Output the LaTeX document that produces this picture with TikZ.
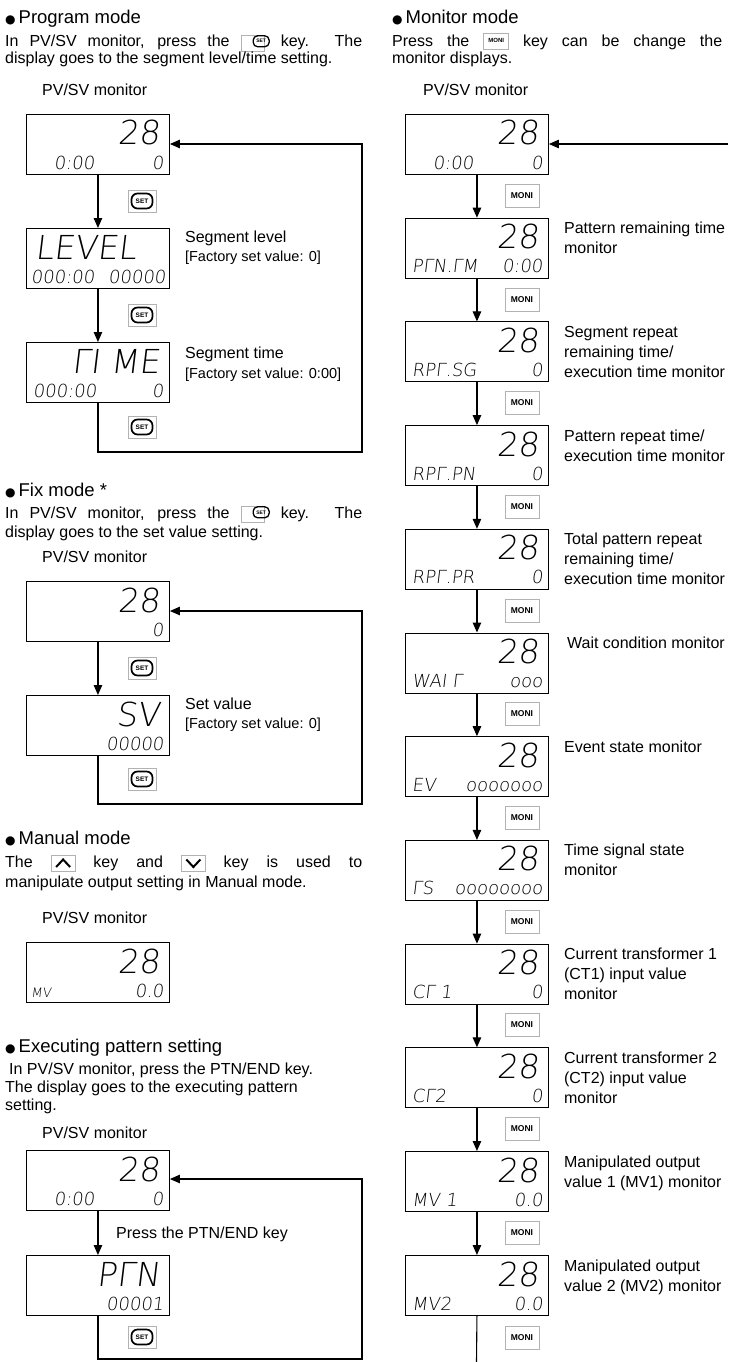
\documentclass[tikz,border=0pt]{standalone}
\usepackage{fontspec}
\setmainfont{Liberation Sans}
\newfontfamily\segfont{DejaVu Sans ExtraLight}[FakeSlant=0.12]
\newfontfamily\dejavu{DejaVu Sans}
\usetikzlibrary{arrows.meta,calc}

\newcommand\SetGlyph[1][6.5]{\tikz[baseline=(sgx.base)]\node[draw,line width=1.7pt,rounded corners=6pt,minimum width=21pt,minimum height=15pt,inner sep=0pt,font=\bfseries\fontsize{#1}{#1}\selectfont](sgx){SET};}
\newcommand\SetKeyIn{\tikz[baseline=-4pt]{\draw[gray!60,line width=0.7pt] (-11.5pt,-8pt) rectangle (11.5pt,8pt);\node[draw,line width=1.3pt,rounded corners=4.5pt,minimum width=16pt,minimum height=11pt,inner sep=0pt,font=\bfseries\fontsize{5}{5}\selectfont] (sgi) at (0pt,0pt) {SET};}}
\newcommand\MoniKeyIn{\tikz[baseline=-4pt]\node[draw=gray!60,line width=0.7pt,minimum width=25pt,minimum height=16pt,inner sep=0pt,font=\bfseries\fontsize{6}{6}\selectfont] (mki) {MONI};}
\newcommand\UpKeyIn{\tikz[baseline=-4pt]{\draw[gray!60,line width=0.7pt] (-12pt,-8pt) rectangle (12pt,8pt);\draw[line width=2pt] (-7pt,-4pt) -- (0pt,3.5pt) -- (7pt,-4pt);}}
\newcommand\DownKeyIn{\tikz[baseline=-4pt]{\draw[gray!60,line width=0.7pt] (-12pt,-8pt) rectangle (12pt,8pt);\draw[line width=2pt] (-7pt,3.5pt) -- (0pt,-4pt) -- (7pt,3.5pt);}}
\newcommand\Bul{{\dejavu\fontsize{12}{12}\selectfont ●}\hspace{3pt}}

\tikzset{
 disp/.style={draw,line width=0.9pt,minimum width=143pt,minimum height=60pt,inner sep=0pt,anchor=north west},
 bigseg/.style={font=\segfont\fontsize{33}{33}\selectfont,inner sep=0pt},
 smallseg/.style={font=\segfont\fontsize{18}{18}\selectfont,inner sep=0pt},
 tinyseg/.style={font=\segfont\fontsize{13}{13}\selectfont,inner sep=0pt},
 flow/.style={line width=1.1pt,-{Triangle[length=10pt,width=8.5pt]}},
 wire/.style={line width=1.1pt},
 setkey/.style={draw=gray!60,line width=0.8pt,fill=white,minimum width=28pt,minimum height=22pt,inner sep=0pt},
 monikey/.style={draw=gray!60,line width=0.9pt,fill=white,minimum width=34pt,minimum height=23pt,inner sep=0pt,font=\bfseries\fontsize{8.5}{8.5}\selectfont},
 hd/.style={font=\fontsize{18.5}{22}\selectfont,inner sep=0pt,anchor=base west},
 body/.style={font=\fontsize{16}{19}\selectfont,inner sep=0pt,anchor=base west},
 lab/.style={font=\fontsize{16}{19}\selectfont,inner sep=0pt,anchor=base west},
 labs/.style={font=\fontsize{14.5}{17}\selectfont,inner sep=0pt,anchor=base west},
 pvcap/.style={font=\fontsize{16}{19}\selectfont,inner sep=0pt,anchor=base west},
}

% name, x, y(top), big text, left small, right small
\newcommand\dispbox[6]{%
 \node[disp] (#1) at (#2,#3) {};
 \node[bigseg,anchor=base east] (#1b) at ($(#1.north east)+(-10,31)$) {#4};
 \node[smallseg,anchor=base west] (#1l) at ($(#1.north west)+(7,55)$) {#5};
 \node[smallseg,anchor=base east] (#1r) at ($(#1.north east)+(-6,55)$) {#6};}

\begin{document}
\begin{tikzpicture}[x=1pt,y=-1pt]
\fill[white] (0,0) rectangle (728,1362);
\useasboundingbox (0,0) rectangle (728,1362);

%================ LEFT: Program mode
\node[hd] (hp) at (5,24) {\Bul Program mode};
\node[body] (tp1) at (5,47) {\makebox[357pt][s]{In PV/SV monitor, press the \SetKeyIn{} key. The}};
\node[body] (tp2) at (5,64) {display goes to the segment level/time setting.};
\node[pvcap] (cp) at (42,96) {PV/SV monitor};

\node[disp] (a1) at (26,114) {};
\node[bigseg,anchor=base east] (a1b) at ($(a1.north east)+(-10,31)$) {28};
\node[smallseg,anchor=base west] (a1l) at ($(a1.north west)+(28,55)$) {0:00};
\node[smallseg,anchor=base east] (a1r) at ($(a1.north east)+(-6,55)$) {0};

\node[disp] (a2) at (26,228) {};
\node[bigseg,anchor=base west] (a2b) at ($(a2.north west)+(9,31)$) {LEVEL};
\node[smallseg,anchor=base west] (a2l) at ($(a2.north west)+(5,55)$) {000:00};
\node[smallseg,anchor=base east] (a2r) at ($(a2.north east)+(-4,55)$) {00000};
\node[lab] (la2a) at ($(a2.north east)+(15,14)$) {Segment level};
\node[labs] (la2b) at ($(a2.north east)+(15,33)$) {[Factory set value: 0]};

\dispbox{a3}{26}{342}{ΓI ME}{000:00}{0}
\node[lab] (la3a) at ($(a3.north east)+(15,16)$) {Segment time};
\node[labs] (la3b) at ($(a3.north east)+(15,36)$) {[Factory set value: 0:00]};

\draw[flow] (a1.south) -- (a2.north);
\draw[flow] (a2.south) -- (a3.north);
\coordinate (pA) at (362,452);
\draw[flow] (a3.south) |- (pA) |- ($(a1.north east)+(0,30)$);
\node[setkey] (ka1) at (142,201) {\SetGlyph};
\node[setkey] (ka2) at (142,315) {\SetGlyph};
\node[setkey] (ka3) at (142,427) {\SetGlyph};

%================ LEFT: Fix mode
\node[hd] (hf) at (5,496) {\Bul Fix mode *};
\node[body] (tf1) at (5,518) {\makebox[357pt][s]{In PV/SV monitor, press the \SetKeyIn{} key. The}};
\node[body] (tf2) at (5,537) {display goes to the set value setting.};
\node[pvcap] (cf) at (42,562) {PV/SV monitor};

\dispbox{b1}{26}{581}{28}{}{0}
\dispbox{b2}{26}{695}{SV}{}{00000}
\node[lab] (lb2a) at ($(b2.north east)+(15,14)$) {Set value};
\node[labs] (lb2b) at ($(b2.north east)+(15,33)$) {[Factory set value: 0]};

\draw[flow] (b1.south) -- (b2.north);
\coordinate (pB) at (362,804);
\draw[flow] (b2.south) |- (pB) |- ($(b1.north east)+(0,30)$);
\node[setkey] (kb1) at (142,668) {\SetGlyph};
\node[setkey] (kb2) at (142,779) {\SetGlyph};

%================ LEFT: Manual mode
\node[hd] (hm) at (5,844) {\Bul Manual mode};
\node[body] (tm1) at (5,867) {\makebox[357pt][s]{The \UpKeyIn{} key and \DownKeyIn{} key is used to}};
\node[body] (tm2) at (5,887) {manipulate output setting in Manual mode.};
\node[pvcap] (cm) at (42,923) {PV/SV monitor};
\node[disp] (c1) at (26,942) {};
\node[bigseg,anchor=base east] (c1b) at ($(c1.north east)+(-10,31)$) {28};
\node[tinyseg,anchor=base west] (c1l) at ($(c1.north west)+(5,55)$) {MV};
\node[smallseg,anchor=base east] (c1r) at ($(c1.north east)+(-6,55)$) {0.0};

%================ LEFT: Executing pattern setting
\node[hd] (he) at (5,1052) {\Bul Executing pattern setting};
\node[body] (te1) at (9,1074) {In PV/SV monitor, press the PTN/END key.};
\node[body] (te2) at (5,1092) {The display goes to the executing pattern};
\node[body] (te3) at (5,1110) {setting.};
\node[pvcap] (ce) at (42,1138) {PV/SV monitor};

\node[disp] (d1) at (26,1150) {};
\node[bigseg,anchor=base east] (d1b) at ($(d1.north east)+(-10,31)$) {28};
\node[smallseg,anchor=base west] (d1l) at ($(d1.north west)+(28,55)$) {0:00};
\node[smallseg,anchor=base east] (d1r) at ($(d1.north east)+(-6,55)$) {0};
\dispbox{d2}{26}{1255}{PΓN}{}{00001}

\draw[flow] (d1.south) -- (d2.north);
\node[lab] (pe) at (116,1238) {Press the PTN/END key};
\coordinate (pD) at (362,1359);
\draw[flow] (d2.south) |- (pD) |- ($(d1.north east)+(0,29)$);
\node[setkey] (kd1) at (142,1337) {\SetGlyph};

%================ RIGHT: Monitor mode
\node[hd] (hr) at (392,24) {\Bul Monitor mode};
\node[body] (tr1) at (392,47) {\makebox[330pt][s]{Press the \MoniKeyIn{} key can be change the}};
\node[body] (tr2) at (392,64) {monitor displays.};
\node[pvcap] (cr) at (423,96) {PV/SV monitor};

\node[disp] (m0) at (405,114) {};
\node[bigseg,anchor=base east] (m0b) at ($(m0.north east)+(-10,31)$) {28};
\node[smallseg,anchor=base west] (m0l) at ($(m0.north west)+(28,55)$) {0:00};
\node[smallseg,anchor=base east] (m0r) at ($(m0.north east)+(-6,55)$) {0};

\dispbox{m1}{405}{217.7}{28}{PΓN.ΓM}{0:00}
\dispbox{m2}{405}{321.4}{28}{RPΓ.SG}{0}
\dispbox{m3}{405}{425.1}{28}{RPΓ.PN}{0}
\dispbox{m4}{405}{528.8}{28}{RPΓ.PR}{0}
\dispbox{m5}{405}{632.5}{28}{WAI Γ}{ooo}
\dispbox{m6}{405}{736.2}{28}{EV}{ooooooo}
\dispbox{m7}{405}{839.9}{28}{ΓS}{oooooooo}
\dispbox{m8}{405}{943.6}{28}{CΓ 1}{0}
\dispbox{m9}{405}{1047.3}{28}{CΓ2}{0}
\dispbox{m10}{405}{1151}{28}{MV 1}{0.0}
\dispbox{m11}{405}{1255}{28}{MV2}{0.0}

\node[lab] (l1a) at ($(m1.north east)+(15,16)$) {Pattern remaining time};
\node[lab] (l1b) at ($(m1.north east)+(15,36)$) {monitor};
\node[lab] (l2a) at ($(m2.north east)+(15,16)$) {Segment repeat};
\node[lab] (l2b) at ($(m2.north east)+(15,36)$) {remaining time/};
\node[lab] (l2c) at ($(m2.north east)+(15,56)$) {execution time monitor};
\node[lab] (l3a) at ($(m3.north east)+(15,16)$) {Pattern repeat time/};
\node[lab] (l3b) at ($(m3.north east)+(15,36)$) {execution time monitor};
\node[lab] (l4a) at ($(m4.north east)+(15,16)$) {Total pattern repeat};
\node[lab] (l4b) at ($(m4.north east)+(15,36)$) {remaining time/};
\node[lab] (l4c) at ($(m4.north east)+(15,56)$) {execution time monitor};
\node[lab] (l5a) at ($(m5.north east)+(18,16)$) {Wait condition monitor};
\node[lab] (l6a) at ($(m6.north east)+(15,16)$) {Event state monitor};
\node[lab] (l7a) at ($(m7.north east)+(15,16)$) {Time signal state};
\node[lab] (l7b) at ($(m7.north east)+(15,36)$) {monitor};
\node[lab] (l8a) at ($(m8.north east)+(15,16)$) {Current transformer 1};
\node[lab] (l8b) at ($(m8.north east)+(15,36)$) {(CT1) input value};
\node[lab] (l8c) at ($(m8.north east)+(15,56)$) {monitor};
\node[lab] (l9a) at ($(m9.north east)+(15,16)$) {Current transformer 2};
\node[lab] (l9b) at ($(m9.north east)+(15,36)$) {(CT2) input value};
\node[lab] (l9c) at ($(m9.north east)+(15,56)$) {monitor};
\node[lab] (l10a) at ($(m10.north east)+(15,16)$) {Manipulated output};
\node[lab] (l10b) at ($(m10.north east)+(15,36)$) {value 1 (MV1) monitor};
\node[lab] (l11a) at ($(m11.north east)+(15,16)$) {Manipulated output};
\node[lab] (l11b) at ($(m11.north east)+(15,36)$) {value 2 (MV2) monitor};

\draw[flow] (m0.south) -- (m1.north);
\draw[flow] (m1.south) -- (m2.north);
\draw[flow] (m2.south) -- (m3.north);
\draw[flow] (m3.south) -- (m4.north);
\draw[flow] (m4.south) -- (m5.north);
\draw[flow] (m5.south) -- (m6.north);
\draw[flow] (m6.south) -- (m7.north);
\draw[flow] (m7.south) -- (m8.north);
\draw[flow] (m8.south) -- (m9.north);
\draw[flow] (m9.south) -- (m10.north);
\draw[flow] (m10.south) -- (m11.north);
\coordinate (pEnd) at (476.5,1362);
\draw[wire] (m11.south) -- (pEnd);
\coordinate (pR) at (728,144);
\draw[flow] (pR) -- ($(m0.north east)+(0,30)$);

\node[monikey] (k0) at (522,196) {MONI};
\node[monikey] (k1) at (522,300) {MONI};
\node[monikey] (k2) at (522,403) {MONI};
\node[monikey] (k3) at (522,507) {MONI};
\node[monikey] (k4) at (522,611) {MONI};
\node[monikey] (k5) at (522,714) {MONI};
\node[monikey] (k6) at (522,818) {MONI};
\node[monikey] (k7) at (522,922) {MONI};
\node[monikey] (k8) at (522,1025) {MONI};
\node[monikey] (k9) at (522,1129) {MONI};
\node[monikey] (k10) at (522,1233) {MONI};
\node[monikey] (k11) at (522,1338) {MONI};
\end{tikzpicture}
\end{document}
